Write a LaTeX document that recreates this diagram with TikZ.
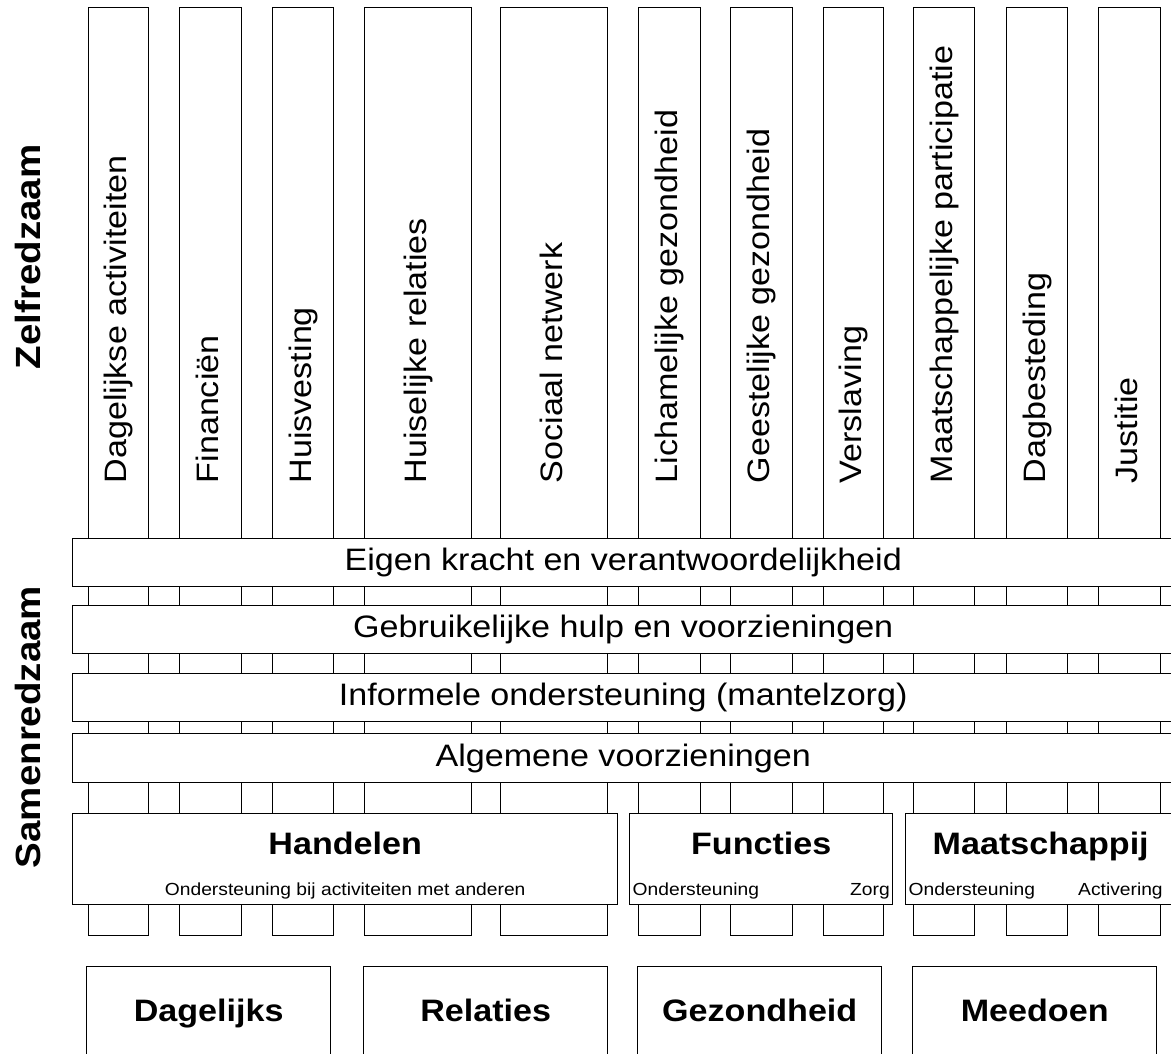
\documentclass[tikz,border=0pt]{standalone}
\usepackage{fontspec}
\setmainfont{Liberation Sans}[FakeStretch=1.1]
\usetikzlibrary{positioning}

\begin{document}
\begin{tikzpicture}[
    x=1pt, y=-1pt,
    line width=1.4pt,
    font=\fontsize{31}{36}\selectfont,
    pillar/.style={draw, anchor=north west, inner sep=0pt, minimum height=928pt, minimum width=#1},
    collabel/.style={rotate=90, anchor=west, inner sep=0pt, text height=23pt, text depth=7pt},
    tier/.style={draw, fill=white, anchor=north west, inner sep=0pt, minimum width=1101pt, minimum height=48pt},
    block/.style={draw, fill=white, anchor=north west, inner sep=0pt, minimum height=91pt, minimum width=#1},
    title/.style={font=\bfseries\fontsize{31}{36}\selectfont, inner sep=0pt},
    sub/.style={font=\fontsize{17.5}{20}\selectfont, inner xsep=3pt, inner ysep=6pt},
    theme/.style={draw, anchor=north west, inner sep=0pt, minimum width=244pt, minimum height=94pt, text height=23pt, text depth=7pt, font=\bfseries\fontsize{31}{36}\selectfont},
    sidelabel/.style={rotate=90, font=\bfseries\fontsize{35}{40}\selectfont}
]

    % Frame
    \useasboundingbox (0,0) rectangle (1171,1054);
    \fill[white] (0,0) rectangle (1171,1054);
    \coordinate (base) at (0,484);

    % Columns (run behind the layers)
    \node[pillar=60pt] (dagelijkse) at (88,7) {};
    \node[pillar=62pt] (financien) at (179,7) {};
    \node[pillar=61pt] (huisvesting) at (272,7) {};
    \node[pillar=107pt] (huiselijk) at (364,7) {};
    \node[pillar=107pt] (sociaal) at (500,7) {};
    \node[pillar=62pt] (lichamelijk) at (638,7) {};
    \node[pillar=62pt] (geestelijk) at (730,7) {};
    \node[pillar=60pt] (verslaving) at (823,7) {};
    \node[pillar=61pt] (participatie) at (913,7) {};
    \node[pillar=61pt] (dagbesteding) at (1006,7) {};
    \node[pillar=62pt] (justitie) at (1098,7) {};

    % Column labels
    \node[collabel] at (dagelijkse |- base) {Dagelijkse activiteiten};
    \node[collabel] at (financien |- base) {Financiën};
    \node[collabel] at (huisvesting |- base) {Huisvesting};
    \node[collabel] at (huiselijk |- base) {Huiselijke relaties};
    \node[collabel] at (sociaal |- base) {Sociaal netwerk};
    \node[collabel] at (lichamelijk |- base) {Lichamelijke gezondheid};
    \node[collabel] at (geestelijk |- base) {Geestelijke gezondheid};
    \node[collabel] at (verslaving |- base) {Verslaving};
    \node[collabel] at (participatie |- base) {Maatschappelijke participatie};
    \node[collabel] at (dagbesteding |- base) {Dagbesteding};
    \node[collabel] at (justitie |- base) {Justitie};

    % Layers
    \node[tier] (eigen) at (72,538) {Eigen kracht en verantwoordelijkheid};
    \node[tier] (gebruikelijk) at (72,605) {Gebruikelijke hulp en voorzieningen};
    \node[tier] (informeel) at (72,673) {Informele ondersteuning (mantelzorg)};
    \node[tier, minimum height=49pt] (algemeen) at (72,733) {Algemene voorzieningen};

    % Functions
    \node[block=545pt] (handelen) at (72,813) {};
    \node[block=263pt] (functies) at (629,813) {};
    \node[block=270pt] (maatschappij) at (905,813) {};
    \node[title, below=18pt of handelen.north] {Handelen};
    \node[title, below=18pt of functies.north] {Functies};
    \node[title, below=18pt of maatschappij.north] {Maatschappij};
    \node[sub, anchor=south] at (handelen.south) {Ondersteuning bij activiteiten met anderen};
    \node[sub, anchor=south west] at (functies.south west) {Ondersteuning};
    \node[sub, anchor=south east] at (functies.south east) {Zorg};
    \node[sub, anchor=south west] at (maatschappij.south west) {Ondersteuning};
    \node[sub, anchor=south east, xshift=-10pt] at (maatschappij.south east) {Activering};

    % Domains
    \node[theme] (dagelijks) at (86,966) {Dagelijks};
    \node[theme] (relaties) at (363,966) {Relaties};
    \node[theme] (gezondheid) at (637,966) {Gezondheid};
    \node[theme] (meedoen) at (912,966) {Meedoen};

    % Side labels
    \node[sidelabel] (zelf) at (28,257) {Zelfredzaam};
    \node[sidelabel] (samen) at (28,727) {Samenredzaam};

\end{tikzpicture}
\end{document}
